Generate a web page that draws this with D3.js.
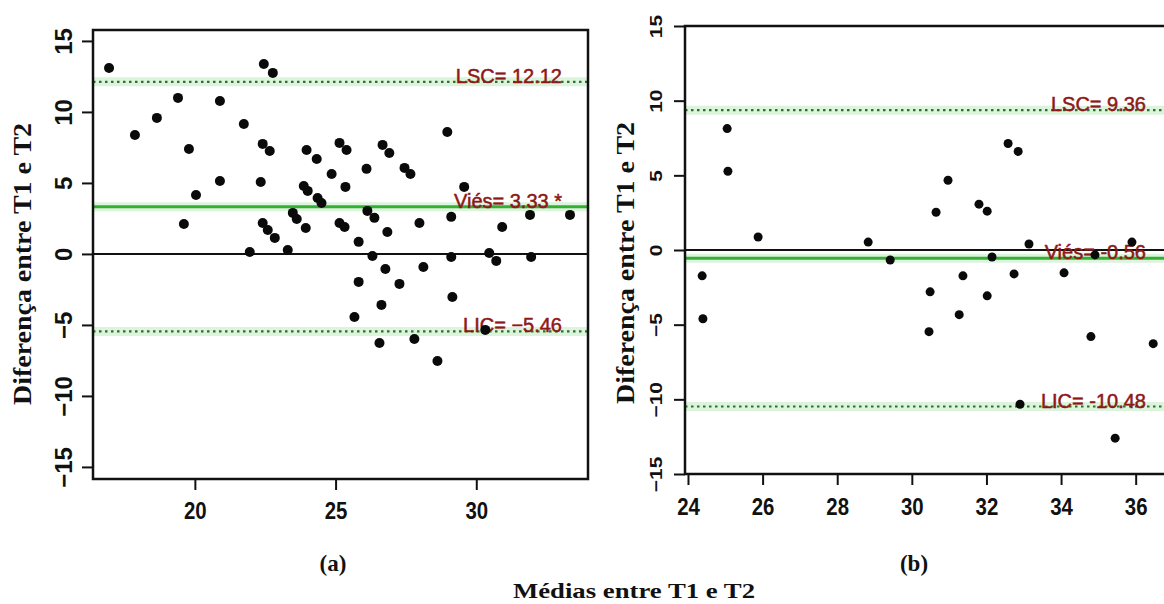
<!DOCTYPE html>
<html>
<head>
<meta charset="utf-8">
<script src="https://cdn.jsdelivr.net/npm/d3@7"></script>
<style>
  body { margin: 0; background: #fff; }
  svg { display: block; }
</style>
</head>
<body>
<svg id="grafico" width="1164" height="604"></svg>
<script>

// painel (a)
var mediasA = [16.95, 17.87, 18.65, 19.40, 19.61, 19.79, 20.04, 20.89, 20.89, 21.74,
               21.95, 22.34, 22.41, 22.45, 22.41, 22.59, 22.66, 22.77, 22.84, 23.30,
               23.48, 23.62, 23.87, 23.94, 23.97, 24.01, 24.33, 24.36, 24.50, 24.86,
               25.14, 25.14, 25.35, 25.39, 25.32, 25.82, 25.82, 25.67, 26.10, 26.13,
               26.38, 26.31, 26.67, 26.91, 26.84, 26.77, 26.63, 26.56, 27.45, 27.66,
               27.27, 27.98, 28.12, 27.80, 28.62, 28.97, 29.11, 29.11, 29.15, 29.57,
               30.32, 30.46, 30.71, 30.92, 31.91, 31.95, 33.33];
var difsA   = [13.10, 8.38, 9.58, 10.99, 2.11, 7.39, 4.15, 10.77, 5.14, 9.15,
               0.14, 5.07, 7.75, 13.38, 2.18, 1.69, 7.25, 12.75, 1.13, 0.28,
               2.89, 2.46, 4.79, 1.83, 7.32, 4.44, 6.69, 3.94, 3.59, 5.63,
               7.82, 2.18, 4.72, 7.32, 1.90, 0.85, -1.97, -4.44, 5.99, 3.03,
               2.54, -0.14, 7.68, 7.11, 1.55, -1.06, -3.59, -6.27, 6.06, 5.63,
               -2.11, 2.18, -0.92, -5.99, -7.54, 8.59, 2.61, -0.21, -3.03, 4.72,
               -5.35, 0.07, -0.49, 1.90, 2.75, -0.21, 2.75];
var limitesA = [12.12, 3.33, -5.46];
var rotulosA = ["LSC= 12.12", "Viés= 3.33 *", "LIC= \u22125.46"];
var xTicksA = [20, 25, 30];

// painel (b)
var mediasB = [25.05, 25.07, 25.88, 24.38, 24.40, 28.83, 29.42, 30.97, 30.65, 30.49,
               30.46, 31.37, 31.27, 31.80, 32.02, 32.02, 32.15, 32.58, 32.85, 32.74,
               33.14, 32.90, 34.08, 34.91, 35.90, 34.80, 35.45, 36.47];
var difsB   = [8.13, 5.27, 0.87, -1.73, -4.60, 0.53, -0.67, 4.67, 2.53, -2.80,
               -5.47, -1.73, -4.33, 3.07, 2.60, -3.07, -0.47, 7.13, 6.60, -1.60,
               0.40, -10.33, -1.53, -0.33, 0.53, -5.80, -12.60, -6.27];
var limitesB = [9.36, -0.56, -10.48];
var rotulosB = ["LSC= 9.36", "Viés= -0.56", "LIC= -10.48"];
var xTicksB = [24, 26, 28, 30, 32, 34, 36];

var yTicks = [-15, -10, -5, 0, 5, 10, 15];

var svg = d3.select("#grafico");

function desenhaPainel(p) {
    var x = d3.scaleLinear().domain(p.xDom).range([p.left, p.right]);
    var y = d3.scaleLinear().domain(p.yDom).range([p.bottom, p.top]);
    var g = svg.append("g");

    // linhas de referencia (halo verde claro por baixo)
    p.limites.forEach(function(v, i) {
        g.append("line")
            .attr("x1", p.left).attr("x2", p.right)
            .attr("y1", y(v)).attr("y2", y(v))
            .style("stroke", "#cdf0cd")
            .style("stroke-width", 9)
            .style("opacity", 0.7);
    });

    // zero
    g.append("line")
        .attr("x1", p.left).attr("x2", p.right)
        .attr("y1", y(0)).attr("y2", y(0))
        .style("stroke", "#111")
        .style("stroke-width", 2);

    p.limites.forEach(function(v, i) {
        var l = g.append("line")
            .attr("x1", p.left).attr("x2", p.right)
            .attr("y1", y(v)).attr("y2", y(v));
        if (i == 1) {
            l.style("stroke", "#33b033").style("stroke-width", 3);
        } else {
            l.style("stroke", "#2f6f2f").style("stroke-width", 2.2)
             .style("stroke-dasharray", "2.5,3.5");
        }
    });

    // rotulos
    g.selectAll("text.rotulo")
        .data(p.rotulos)
        .enter()
        .append("text")
        .attr("class", "rotulo")
        .text(function(d) { return d; })
        .attr("x", p.right - p.labelPad)
        .attr("y", function(d, i) { return y(p.limites[i]) + 1; })
        .attr("text-anchor", "end")
        .style("font-family", "'Liberation Sans', Arial, sans-serif")
        .style("font-size", "20px")
        .style("fill", "#8e1818")
        .style("stroke", "#8e1818")
        .style("stroke-width", 0.5);

    // pontos
    g.selectAll("circle")
        .data(p.medias)
        .enter()
        .append("circle")
        .attr("cx", function(d) { return x(d); })
        .attr("cy", function(d, i) { return y(p.difs[i]); })
        .attr("r", p.r)
        .style("fill", "#0a0a0a");

    // caixa
    g.append("rect")
        .attr("x", p.left).attr("y", p.top)
        .attr("width", p.right - p.left)
        .attr("height", p.bottom - p.top)
        .style("fill", "none")
        .style("stroke", "#111")
        .style("stroke-width", 2.5);

    // eixo x
    var ax = g.append("g")
        .attr("transform", "translate(0," + p.bottom + ")")
        .call(d3.axisBottom(x).tickValues(p.xTicks).tickSize(11).tickSizeOuter(0));
    ax.select(".domain").remove();
    ax.selectAll("line").style("stroke", "#111").style("stroke-width", 2);
    ax.selectAll("text")
        .attr("y", 0).attr("dy", 0)
        .attr("transform", "translate(0," + p.xLabY + ") scale(0.85,1)")
        .style("font-family", "'Liberation Sans', Arial, sans-serif")
        .style("font-weight", "bold")
        .style("font-size", "24px")
        .style("fill", "#111");

    // eixo y
    var ay = g.append("g")
        .attr("transform", "translate(" + p.left + ",0)")
        .call(d3.axisLeft(y).tickValues(yTicks).tickSize(11).tickSizeOuter(0));
    ay.select(".domain").remove();
    ay.selectAll("line").style("stroke", "#111").style("stroke-width", 2);
    ay.selectAll("text")
        .attr("x", 0).attr("dy", 0)
        .attr("text-anchor", "middle")
        .attr("transform", "translate(" + p.yLabX + ",0) rotate(-90) scale(1," + p.yLabSy + ")")
        .style("font-family", "'Liberation Sans', Arial, sans-serif")
        .style("font-weight", "bold")
        .style("font-size", p.yLabFs + "px")
        .style("fill", "#111");

    // titulo do eixo y
    g.append("text")
        .text("Diferença entre T1 e T2")
        .attr("transform", "translate(" + p.titX + "," + p.titY + ") rotate(-90)")
        .attr("text-anchor", "middle")
        .attr("textLength", 282)
        .attr("lengthAdjust", "spacingAndGlyphs")
        .style("font-family", "'Liberation Serif', 'Times New Roman', serif")
        .style("font-weight", "bold")
        .style("font-size", "25px")
        .style("fill", "#111");

    // (a) / (b)
    g.append("text")
        .text(p.letra)
        .attr("x", p.letraX).attr("y", 571)
        .attr("text-anchor", "middle")
        .style("font-family", "'Liberation Serif', 'Times New Roman', serif")
        .style("font-weight", "bold")
        .style("font-size", "23px")
        .style("fill", "#111");
}

desenhaPainel({
    medias: mediasA, difs: difsA, limites: limitesA, rotulos: rotulosA, xTicks: xTicksA,
    xDom: [16.38, 33.97], yDom: [-15.85, 15.77],
    left: 93, right: 588, top: 30, bottom: 479,
    r: 5, labelPad: 26, xLabY: 40, yLabX: -21, yLabSy: 1, yLabFs: 24,
    titX: 31, titY: 264, letra: "(a)", letraX: 333
});

desenhaPainel({
    medias: mediasB, difs: difsB, limites: limitesB, rotulos: rotulosB, xTicks: xTicksB,
    xDom: [23.92, 36.92], yDom: [-15, 15],
    left: 685, right: 1170, top: 26, bottom: 474,
    r: 4.5, labelPad: 24, xLabY: 41, yLabX: -23, yLabSy: 0.8, yLabFs: 21,
    titX: 634, titY: 263, letra: "(b)", letraX: 914
});

// titulo do eixo x (comum)
svg.append("text")
    .text("Médias entre T1 e T2")
    .attr("x", 634).attr("y", 598)
    .attr("text-anchor", "middle")
    .attr("textLength", 242)
    .attr("lengthAdjust", "spacingAndGlyphs")
    .style("font-family", "'Liberation Serif', 'Times New Roman', serif")
    .style("font-weight", "bold")
    .style("font-size", "22px")
    .style("fill", "#111");

</script>
</body>
</html>
